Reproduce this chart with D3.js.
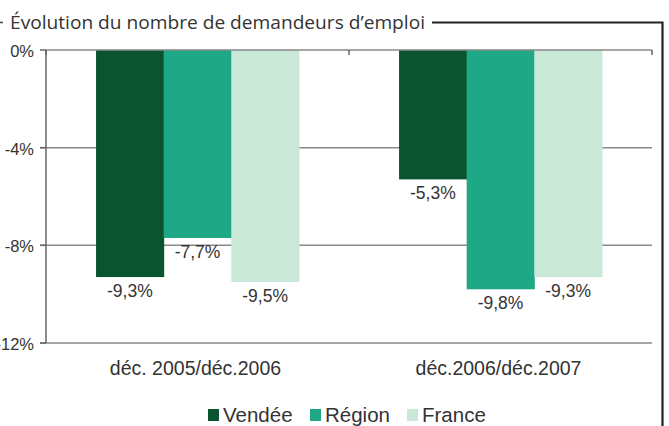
<!DOCTYPE html>
<html><head><meta charset="utf-8">
<script src="https://cdn.jsdelivr.net/npm/d3@7"></script>
<style>body{margin:0;background:#fff}svg{display:block}</style>
</head><body>
<script>
const categories = ["déc. 2005/déc.2006", "déc.2006/déc.2007"];
const seriesNames = ["Vendée", "Région", "France"];
const vendee = [-9.3, -5.3];
const region = [-7.7, -9.8];
const france = [-9.5, -9.3];
const yTicks = [0, -4, -8, -12];
const colors = ["#0a5530", "#1fa886", "#c9e8d7"];
const title = "Évolution du nombre de demandeurs d’emploi";

const W = 669, H = 426;
const FONT = "'Liberation Sans', Arial, sans-serif";
const svg = d3.select("body").append("svg").attr("width", W).attr("height", H);
const m = {left: 46, right: 652, top: 50, bottom: 343};
const x0 = d3.scaleBand().domain(categories).range([m.left, m.right]).paddingInner(0).paddingOuter(0);
const x1 = d3.scaleBand().domain(seriesNames).range([0, x0.bandwidth()]).paddingInner(0).paddingOuter(0.74);
const y = d3.scaleLinear().domain([0, -12]).range([m.top, m.bottom]);
const series = [vendee, region, france];
const fmt = v => d3.format(".1f")(v).replace(".", ",").replace("−", "-") + "%";

// frame
svg.append("path").attr("d", `M432,22.5H662.5V${H}`).attr("fill", "none").attr("stroke", "#222").attr("stroke-width", 2.2);
svg.append("line").attr("x1", 0).attr("x2", 3).attr("y1", 22.5).attr("y2", 22.5).attr("stroke", "#444").attr("stroke-width", 1.5);
svg.append("text").attr("x", 10).attr("y", 29).attr("font-family", "'Open Sans', sans-serif").attr("font-size", 19)
  .attr("textLength", 415).attr("lengthAdjust", "spacingAndGlyphs").attr("fill", "#333").text(title);

// gridlines
svg.append("g").selectAll("line").data(yTicks.filter(d => d !== 0)).join("line")
  .attr("x1", m.left - 6).attr("x2", m.right).attr("y1", d => y(d)).attr("y2", d => y(d))
  .attr("stroke", "#888").attr("stroke-width", 1.5);

// bars
const g = svg.append("g");
categories.forEach((c, ci) => {
  series.forEach((s, si) => {
    const v = s[ci];
    g.append("rect").attr("x", x0(c) + x1(seriesNames[si])).attr("y", y(0))
      .attr("width", x1.bandwidth() + 0.5).attr("height", y(v) - y(0)).attr("fill", colors[si]);
    g.append("text").attr("x", x0(c) + x1(seriesNames[si]) + x1.bandwidth() / 2).attr("y", y(v) + 20)
      .attr("text-anchor", "middle").attr("font-family", FONT)
      .attr("font-size", 17.5).attr("fill", "#333").text(fmt(v));
  });
});

// top axis line at 0 with ticks at category boundaries
svg.append("line").attr("x1", m.left).attr("x2", m.right).attr("y1", y(0)).attr("y2", y(0)).attr("stroke", "#888").attr("stroke-width", 1.5);
const bounds = [m.left, x0(categories[1]), m.right];
svg.append("g").selectAll("line").data(bounds).join("line")
  .attr("x1", d => d).attr("x2", d => d).attr("y1", y(0)).attr("y2", y(0) + 5).attr("stroke", "#666").attr("stroke-width", 1.5);
// y axis
svg.append("line").attr("x1", m.left).attr("x2", m.left).attr("y1", m.top).attr("y2", m.bottom).attr("stroke", "#666").attr("stroke-width", 1.5);
svg.append("g").selectAll("line").data(yTicks).join("line")
  .attr("x1", m.left - 6).attr("x2", m.left).attr("y1", d => y(d)).attr("y2", d => y(d)).attr("stroke", "#666").attr("stroke-width", 1.5);
svg.append("g").selectAll("text").data(yTicks).join("text")
  .attr("x", 34).attr("y", d => y(d) + 7).attr("text-anchor", "end")
  .attr("font-family", FONT).attr("font-size", 16.5).attr("fill", "#333")
  .text(d => d + "%");

// category labels
svg.append("g").selectAll("text").data(categories).join("text")
  .attr("x", d => x0(d) + x0.bandwidth() / 2 - 2).attr("y", 375).attr("text-anchor", "middle")
  .attr("font-family", FONT).attr("font-size", 19.5).attr("fill", "#333").text(d => d);

// legend
const legX = [208, 310, 407];
const lg = svg.append("g");
seriesNames.forEach((n, i) => {
  lg.append("rect").attr("x", legX[i]).attr("y", 409).attr("width", 11).attr("height", 12).attr("fill", colors[i]);
  lg.append("text").attr("x", legX[i] + 15).attr("y", 421.5).attr("font-family", FONT)
    .attr("font-size", 20.5).attr("fill", "#333").text(n);
});
</script>
</body></html>
